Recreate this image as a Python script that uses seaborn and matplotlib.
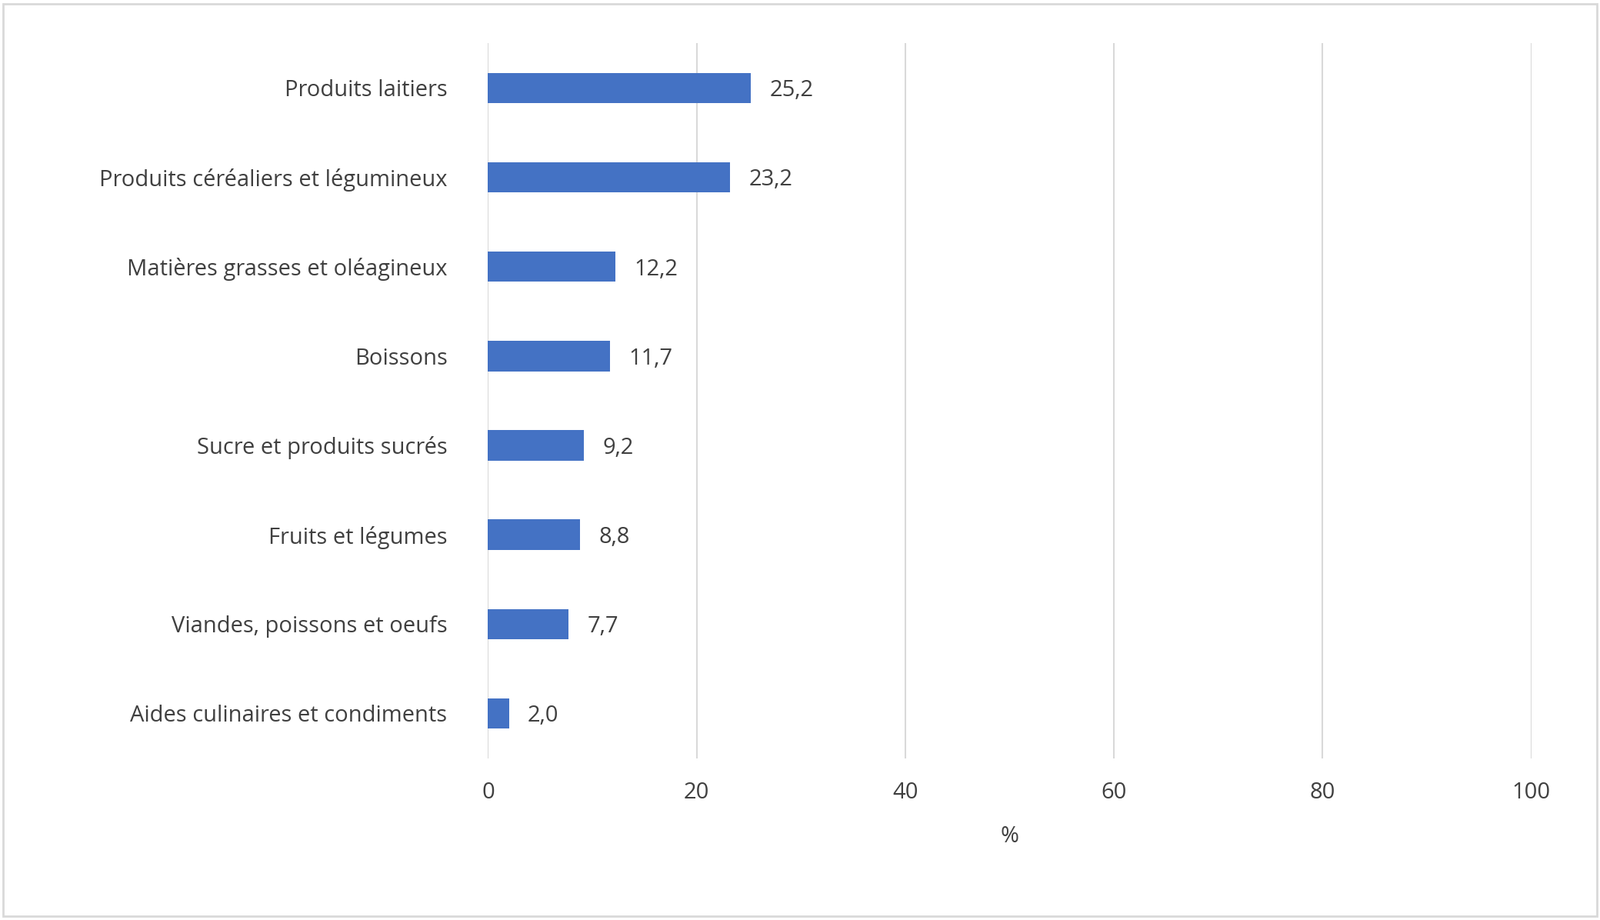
import matplotlib
matplotlib.use("Agg")
import matplotlib.pyplot as plt
import seaborn as sns
import pandas as pd
from matplotlib.patches import Rectangle

categories = ["Produits laitiers", "Produits céréaliers et légumineux", "Matières grasses et oléagineux",
              "Boissons", "Sucre et produits sucrés", "Fruits et légumes",
              "Viandes, poissons et oeufs", "Aides culinaires et condiments"]
values = [25.2, 23.2, 12.2, 11.7, 9.2, 8.8, 7.7, 2.0]
xticks = [0, 20, 40, 60, 80, 100]

df = pd.DataFrame({"cat": categories, "val": values})
plt.rcParams["font.family"] = "Open Sans"
fig = plt.figure(figsize=(20.8, 11.96), dpi=100)
ax = fig.add_axes([0.305, 0.176, 0.652, 0.777])
sns.barplot(data=df, x="val", y="cat", color="#4472C4", width=0.34, saturation=1, ax=ax, zorder=3)
ax.set_xlim(0, 100)
ax.set_ylim(len(categories) - 0.5, -0.5)
ax.set_xticks(xticks)
ax.set_xticklabels([str(t) for t in xticks])
ax.grid(axis="x", color="#D9D9D9", linewidth=1.5, zorder=0)
for s in ax.spines.values():
    s.set_visible(False)
ax.tick_params(length=0, labelsize=21, labelcolor="#404040", pad=22)
ax.tick_params(axis="y", pad=38)
ax.set_ylabel("")
ax.set_xlabel("%", fontsize=21, color="#404040", labelpad=20)
for i, v in enumerate(values):
    ax.text(v + 1.8, i + 0.03, f"{v:.1f}".replace(".", ","), va="center", ha="left", fontsize=21, color="#404040")
fig.patches.append(Rectangle((0.002, 0.004), 0.996, 0.992, transform=fig.transFigure,
                             fill=False, edgecolor="#D9D9D9", linewidth=2))
fig.savefig("out.png", dpi=100)
